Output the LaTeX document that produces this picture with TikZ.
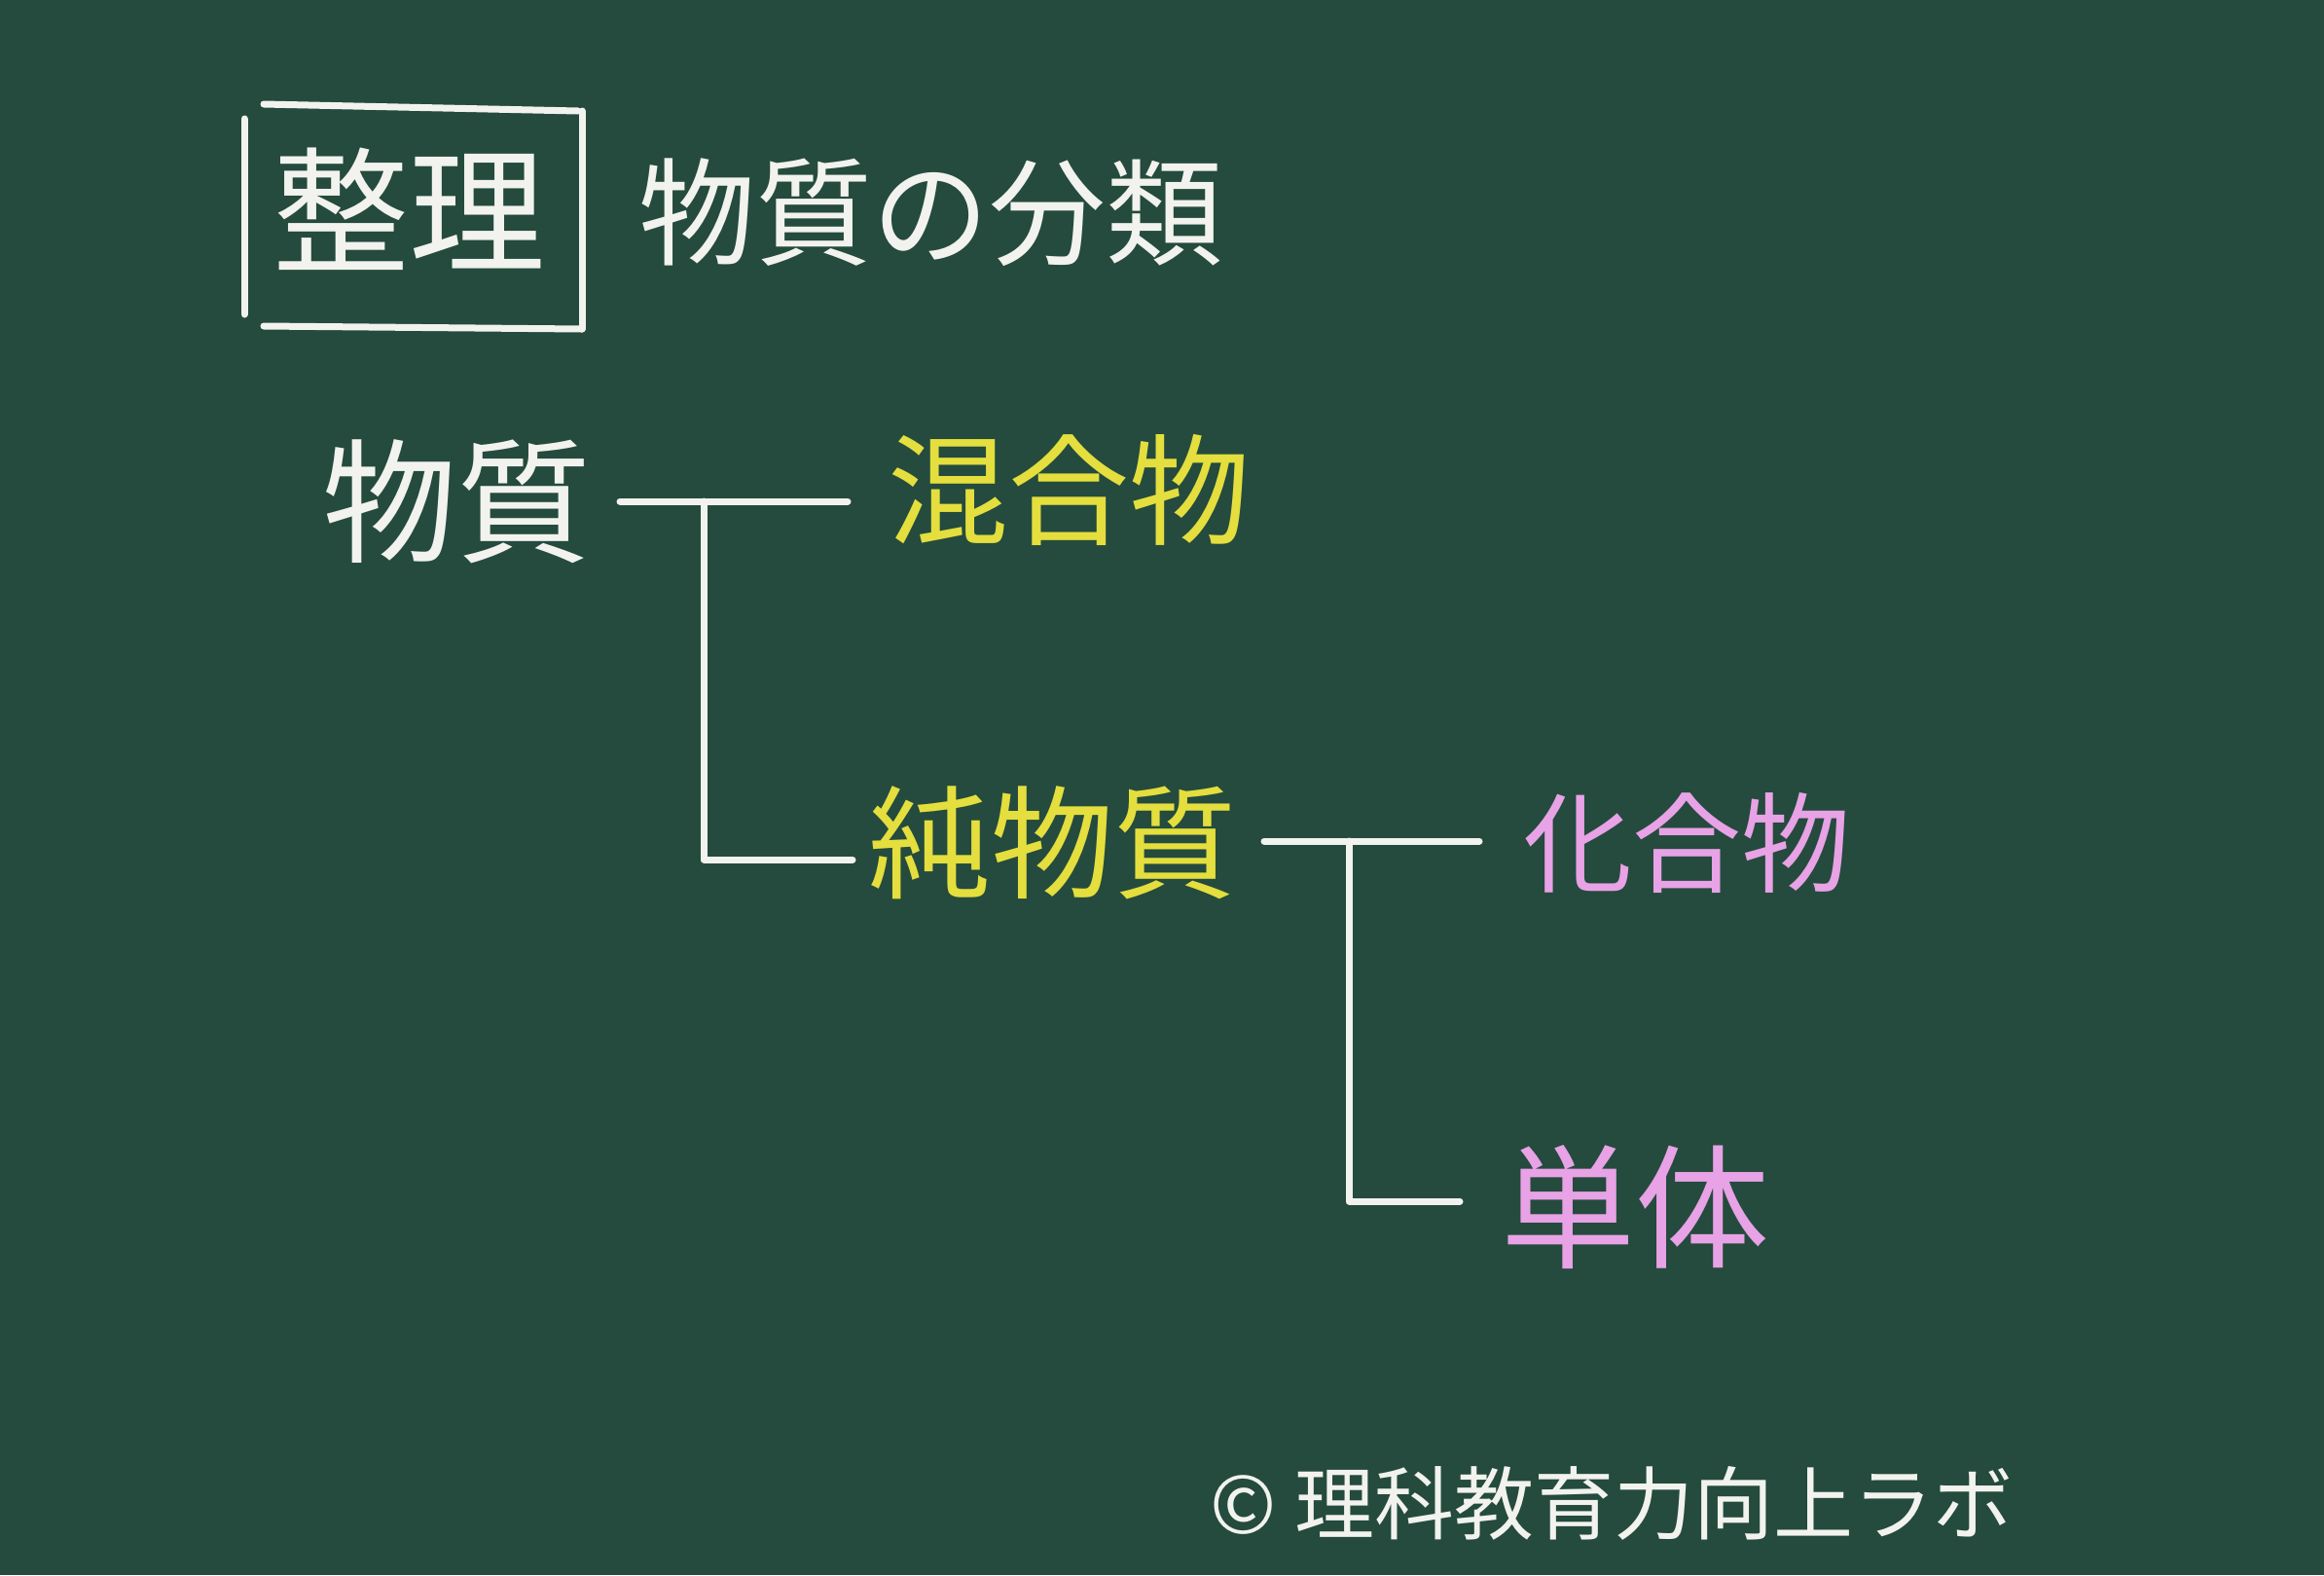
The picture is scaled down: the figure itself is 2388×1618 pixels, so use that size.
\documentclass[tikz,border=0pt]{standalone}
\usepackage{fontspec}
\newfontfamily\jp{Noto Sans CJK JP}
\definecolor{board}{HTML}{244B3D}
\definecolor{chalkwhite}{HTML}{F2F2EE}
\definecolor{chalkyellow}{HTML}{E4DE3E}
\definecolor{chalkpink}{HTML}{E8A2E6}
\tikzset{
  chalkline/.style={draw=chalkwhite, line width=7pt, line cap=round, line join=round},
  lbl/.style={inner sep=0pt, anchor=center, font=\jp},
}
\newcommand{\fs}[1]{\fontsize{#1}{#1}\selectfont}
\begin{document}
\begin{tikzpicture}[x=1pt,y=-1pt]
\fill[board] (0,0) rectangle (2388,1618);
\useasboundingbox (0,0) rectangle (2388,1618);
% box around 整理
\coordinate (b1) at (251,122); \coordinate (b2) at (251,323);
\coordinate (b3) at (271,107); \coordinate (b4) at (594,114);
\coordinate (b5) at (598,114); \coordinate (b6) at (598,338);
\coordinate (b7) at (271,335); \coordinate (b8) at (598,338);
\draw[chalkline] (b1) -- (b2);
\draw[chalkline] (b3) -- (b4);
\draw[chalkline] (b5) -- (b6);
\draw[chalkline] (b7) -- (b8);
\node[lbl, text=chalkwhite, font=\jp\fs{140}] (seiri) at (420,215) {整理};
\node[lbl, text=chalkwhite, font=\jp\fs{120}] (title) at (956,218) {物質の分類};
% tree
\node[lbl, text=chalkwhite, font=\jp\fs{138}] (bs) at (469,515) {物質};
\node[lbl, text=chalkyellow, font=\jp\fs{124}] (kongo) at (1098,503) {混合物};
\node[lbl, text=chalkyellow, font=\jp\fs{126}] (jun) at (1081,866) {純物質};
\node[lbl, text=chalkpink, font=\jp\fs{112}] (kago) at (1733,866) {化合物};
\node[lbl, text=chalkpink, font=\jp\fs{138}] (tantai) at (1680,1240) {単体};
\coordinate (j1) at (723,515);
\coordinate (j2) at (1386,864);
\draw[chalkline] (637,515) coordinate (s1) -- (871,515) coordinate (e1);
\draw[chalkline] (j1) |- (876,883) coordinate (e2);
\draw[chalkline] (1299,864) coordinate (s2) -- (1520,864) coordinate (e3);
\draw[chalkline] (j2) |- (1500,1234) coordinate (e4);
\node[lbl, text=chalkwhite, font=\jp\fs{82}] (credit) at (1656,1544) {© 理科教育力向上ラボ};
\end{tikzpicture}
\end{document}
